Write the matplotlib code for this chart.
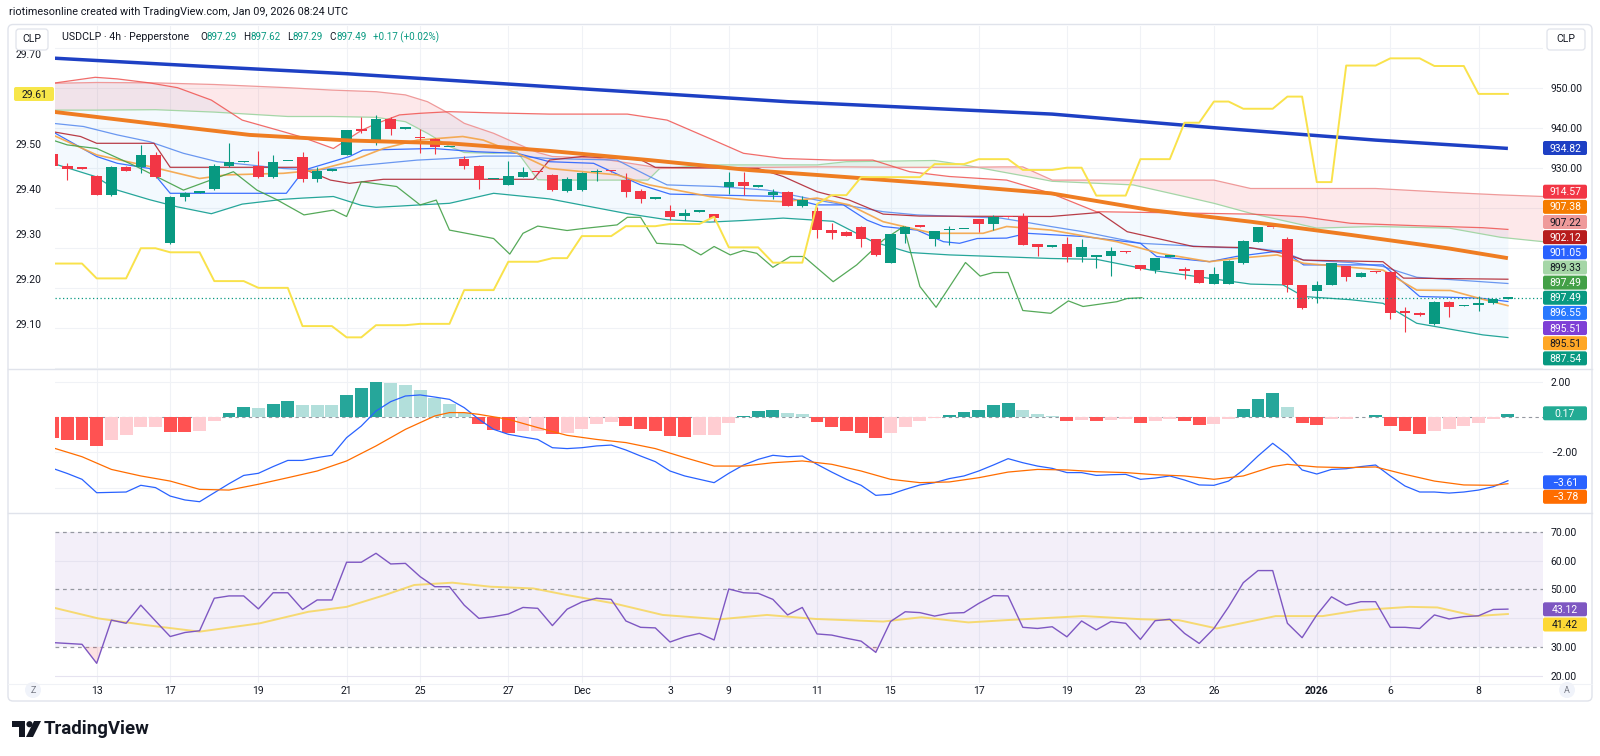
import numpy as np
import matplotlib
matplotlib.use("Agg")
import matplotlib.pyplot as plt
from matplotlib.patches import FancyBboxPatch, Polygon, Circle

plt.rcParams['font.family'] = ['Roboto', 'DejaVu Sans']

# ---------------- data ----------------
x_ticks = [3, 8, 14, 20, 25, 31, 36, 42, 46, 52, 57, 63, 69, 74, 79, 86, 91, 97]
x_ticklabels = ['13', '17', '19', '21', '25', '27', 'Dec', '3', '9', '11', '15',
                '17', '19', '23', '26', '2026', '6', '8']

opens = [933.4, 930.5, 929.9, 927.9, 923.3, 930.3, 930.3, 933.2, 911.3, 922.6,
         923.7, 924.8, 930.4, 931.4, 930.5, 927.8, 931.6, 932.8, 927.1, 929.3,
         933.3, 939.3, 936.9, 942.1, 939.7, 937.6, 937.3, 935.1, 932.3, 930.5,
         927.1, 925.7, 927.8, 929.0, 928.2, 924.2, 924.4, 928.9, 929.2, 926.9,
         924.2, 922.2, 919.3, 917.9, 919.0, 918.4, 925.3, 926.5, 925.2, 923.2,
         924.0, 920.5, 919.2, 914.4, 914.0, 915.3, 912.2, 906.3, 913.4, 915.4,
         912.3, 914.4, 914.6, 917.1, 915.9, 917.7, 918.0, 910.9, 910.2, 910.9,
         907.8, 907.7, 907.9, 909.1, 905.6, 904.4, 907.7, 904.5, 904.4, 901.0,
         901.0, 906.1, 911.5, 915.2, 912.3, 900.7, 899.3, 900.7, 905.4, 902.8,
         904.0, 904.0, 893.9, 893.8, 890.9, 896.5, 895.4, 895.8, 896.1, 897.29]
highs = [934.0, 931.1, 930.0, 928.1, 930.5, 930.4, 935.7, 933.9, 922.9, 924.0,
         924.0, 931.0, 936.1, 931.6, 934.2, 933.2, 931.8, 933.9, 930.1, 929.5,
         939.5, 942.8, 943.2, 942.6, 939.9, 939.8, 937.4, 935.3, 932.9, 930.6,
         927.3, 931.8, 930.1, 929.1, 928.5, 927.6, 929.0, 929.8, 929.3, 928.6,
         924.8, 922.4, 920.8, 919.6, 919.2, 918.5, 929.0, 928.9, 925.4, 924.6,
         924.1, 922.9, 920.3, 916.1, 914.1, 915.4, 912.3, 913.5, 915.4, 915.5,
         914.3, 915.4, 914.8, 917.2, 918.2, 917.8, 918.6, 911.0, 910.5, 912.8,
         912.1, 908.0, 910.3, 909.2, 905.7, 907.5, 907.9, 905.3, 904.5, 905.3,
         906.9, 911.9, 915.2, 915.3, 912.8, 900.8, 901.8, 906.2, 905.5, 903.9,
         904.1, 904.1, 895.3, 893.9, 896.6, 896.6, 895.6, 897.9, 897.2, 897.62]
lows = [930.0, 926.9, 929.6, 923.1, 922.9, 929.2, 928.6, 927.5, 911.0, 921.7,
        923.6, 924.5, 930.3, 931.4, 927.5, 927.5, 931.6, 926.4, 926.4, 929.3,
        933.2, 938.6, 935.7, 938.3, 939.7, 933.8, 933.4, 935.1, 929.7, 924.8,
        927.1, 925.6, 927.7, 928.8, 924.2, 924.0, 924.2, 926.8, 929.0, 922.8,
        921.3, 922.2, 916.9, 916.9, 919.0, 916.7, 923.4, 923.3, 925.2, 922.1,
        920.4, 920.3, 912.5, 912.1, 912.9, 910.3, 908.0, 906.2, 911.3, 915.2,
        910.4, 910.7, 914.6, 914.0, 914.4, 917.5, 910.7, 908.0, 910.2, 906.5,
        906.5, 904.9, 902.9, 908.8, 904.5, 903.8, 907.7, 902.1, 901.2, 900.9,
        900.9, 906.0, 911.4, 915.0, 899.0, 894.8, 896.3, 900.6, 901.8, 902.7,
        903.8, 892.1, 889.0, 893.0, 890.8, 892.8, 895.4, 894.3, 896.0, 897.29]
closes = [930.4, 929.6, 929.7, 923.3, 930.3, 929.3, 933.2, 927.8, 922.8, 923.6,
          923.9, 930.4, 931.5, 931.5, 927.8, 931.4, 931.7, 927.1, 929.3, 929.4,
          939.4, 939.2, 942.2, 939.8, 939.8, 937.4, 935.1, 935.2, 930.4, 926.9,
          927.2, 927.9, 929.0, 928.9, 924.4, 927.3, 928.8, 929.2, 929.1, 924.0,
          922.1, 922.3, 917.8, 918.8, 919.1, 917.5, 926.5, 925.4, 925.3, 924.0,
          920.5, 921.9, 914.4, 913.8, 913.0, 912.1, 908.1, 913.4, 915.3, 915.3,
          914.2, 914.6, 914.7, 915.9, 917.6, 917.6, 910.8, 910.1, 910.3, 907.8,
          910.1, 907.9, 909.3, 908.9, 904.6, 907.4, 907.8, 904.3, 901.3, 903.4,
          906.8, 911.8, 915.1, 915.1, 900.7, 894.9, 900.7, 906.1, 902.8, 903.8,
          903.9, 893.8, 893.7, 893.1, 896.5, 895.1, 895.5, 896.0, 897.1, 897.49]

# yellow series on the left scale (one value per bar)
yellow_left = ([29.235] * 3 + [29.202] * 3 + [29.269] * 2 + [29.260] * 3 + [29.196] * 3 +
               [29.181] * 3 + [29.096] * 3 + [29.071] * 2 + [29.098] * 3 + [29.101] * 3 +
               [29.176] * 3 + [29.239] * 3 + [29.247] * 2 + [29.296] * 3 + [29.318] * 3 +
               [29.323] * 3 + [29.339] * 1 + [29.271] * 3 + [29.237] * 3 + [29.367] * 1 +
               [29.387] * 2 + [29.427] * 5 + [29.456] * 3 + [29.467] * 3 + [29.443] * 3 +
               [29.448] * 2 + [29.386] * 3 + [29.467] * 3 + [29.548] * 2 + [29.595] * 2 +
               [29.579] * 3 + [29.606] * 2 + [29.416] * 2 + [29.675] * 3 + [29.691] * 3 +
               [29.674] * 3 + [29.612] * 3)

sma_long_pts = [(0, 957.4), (10, 955.4), (20, 953.5), (37, 949.5), (50, 946.5), (68, 943.4),
                (79, 940.0), (90, 936.9), (99, 934.82)]
ema_mid_pts = [(0, 944.0), (6.6, 941.1), (13.4, 938.2), (20.2, 936.8), (27, 936.1), (33.8, 934.2),
               (40.6, 931.9), (47.4, 929.4), (54.2, 927.6), (61, 925.7), (67.9, 923.6), (74.7, 919.4),
               (81.5, 916.5), (88.3, 913.2), (95, 909.8), (99, 907.38)]

cloud_x = [0, 3, 7, 11, 16, 19, 22, 24, 25.5, 27, 28, 30, 31.6, 33, 34, 37, 40.5, 41.3, 45, 49,
           52, 54, 58, 60, 62, 64.5, 66, 68, 73.5, 77, 79, 81.5, 86, 90, 95, 98.5, 101.4]
lead_a = [944.4, 944.4, 944.5, 943.9, 942.8, 942.8, 942.6, 941.5, 938.6, 935.3, 933.8, 933.6,
          934.0, 927.0, 926.9, 926.9, 926.9, 929.8, 930.7, 930.7, 930.7, 931.5, 931.7, 931.8,
          930.7, 929.0, 928.0, 926.6, 925.7, 922.8, 921.1, 918.6, 914.9, 915.3, 914.9, 912.6, 911.5]
lead_b = [951.1, 951.3, 951.2, 950.8, 950.0, 949.4, 949.0, 948.2, 946.5, 943.5, 941.1, 938.6,
          936.0, 933.8, 932.8, 932.4, 930.4, 929.8, 930.0, 930.1, 930.2, 930.2, 930.1, 930.1,
          930.1, 930.2, 930.2, 926.9, 926.9, 926.9, 926.9, 924.8, 924.8, 924.8, 923.8, 923.2, 922.8]

band_x = [0, 2.9, 4.4, 6.6, 8.5, 10.8, 12.9, 15.7, 17, 19.1, 21, 22, 23.6, 25, 27, 30, 33.8,
          39.1, 41.8, 44.7, 47, 49.7, 53.1, 55.8, 58.3, 61, 64.9, 67.9, 71, 74.7, 81.5, 83.7,
          85.1, 88.3, 90.5, 92.8, 97.3, 99]
band_upper = [951.1, 952.6, 952.2, 951.2, 950.0, 946.9, 941.9, 939.0, 937.6, 934.8, 939.3,
              941.0, 943.2, 943.6, 944.0, 943.7, 943.4, 943.4, 941.9, 937.3, 933.6, 932.3,
              931.9, 931.9, 929.0, 927.8, 926.9, 923.6, 919.0, 918.8, 918.4, 918.0, 917.7,
              916.1, 915.8, 915.5, 915.0, 914.57]
band_lower = [931.1, 927.8, 924.4, 922.0, 920.2, 918.5, 920.9, 922.1, 922.4, 922.8, 920.6,
              920.1, 920.4, 920.7, 921.1, 923.6, 922.2, 918.5, 917.0, 916.4, 916.8, 917.4,
              916.6, 911.5, 908.8, 908.2, 907.7, 907.3, 907.1, 904.4, 900.9, 900.7, 897.8,
              897.0, 896.1, 891.1, 888.2, 887.54]

blue_a_pts = [(0, 941.1), (2.1, 940.3), (4.4, 938.2), (6.6, 936.5), (8.9, 933.6), (11.2, 931.5),
              (13.4, 930.7), (15.7, 929.8), (18, 929.4), (20.2, 930.3), (22.5, 931.1), (24.8, 931.9),
              (27, 932.3), (29.3, 932.9), (31.6, 932.9), (33.8, 932.3), (38.4, 931.9), (40.6, 927.8),
              (41.8, 925.7), (45.2, 925.3), (48.6, 924.4), (52, 921.9), (56.5, 919.0), (58.8, 918.2),
              (61, 917.9), (64.5, 917.4), (66, 916.5), (67.9, 915.3), (70.1, 914.0), (74, 911.1),
              (79.2, 910.1), (81.9, 909.8), (83.7, 909.0), (85.1, 906.9), (88.3, 906.3),
              (90.5, 905.3), (92.8, 902.6), (99, 901.05)]
blue_step_pts = [(0, 939.0), (3, 932.8), (4.4, 931.1), (6.6, 929.8), (8, 923.6), (15.9, 923.6),
                 (17.1, 929.4), (20.2, 932.8), (21.1, 934.4), (25.9, 934.8), (28.8, 934.0),
                 (31.6, 933.6), (33.8, 931.5), (36.8, 931.1), (40, 925.7), (42, 923.4), (49.7, 922.8),
                 (52, 920.7), (53.8, 920.7), (55.4, 916.9), (56.5, 915.3), (58.8, 914.4), (60.6, 911.5),
                 (61.7, 911.1), (62.9, 912.3), (64.9, 912.4), (66.3, 913.6), (70.1, 912.8), (74, 911.1),
                 (75.1, 907.8), (78.7, 906.5), (80.5, 907.8), (83.7, 909.3), (85.1, 905.7),
                 (90.5, 905.7), (93, 897.8), (97.1, 897.4), (99, 896.55)]
base_pts = [(0, 939.0), (1.9, 937.8), (3, 936.1), (6.9, 936.1), (8, 930.1), (16.8, 930.1),
            (18.9, 926.9), (20.2, 926.1), (22.5, 927.1), (32.7, 927.1), (33.8, 931.9), (36, 932.8),
            (40, 932.0), (41, 930.1), (48, 929.8), (49.7, 927.8), (52, 924.0), (54.2, 921.9),
            (56.5, 918.4), (59, 917.9), (67.9, 917.8), (71.2, 918.8), (73.1, 914.0), (77.6, 910.3),
            (81.5, 910.0), (83.7, 908.6), (85.1, 906.9), (90.5, 906.5), (91.9, 902.4), (99, 902.12)]
orange_thin_pts = [(0, 938.2), (3, 933.2), (6.6, 930.3), (10, 927.3), (11.8, 928.2), (15.7, 928.6),
                   (18, 929.4), (20.2, 931.5), (22.5, 934.8), (24.8, 936.9), (27.9, 937.8),
                   (29.3, 936.9), (31.6, 933.6), (33.8, 929.8), (38.4, 928.2), (40.6, 925.7),
                   (44.7, 922.8), (47.4, 921.9), (49.7, 921.5), (52, 922.4), (54.2, 920.7),
                   (56.5, 916.5), (57.9, 915.3), (59.9, 913.6), (63.3, 913.6), (64.9, 915.3),
                   (67.9, 914.4), (72.4, 911.5), (75.3, 908.6), (78.7, 906.5), (80.5, 907.3),
                   (83.3, 908.2), (85.1, 906.1), (90.5, 904.4), (92.8, 899.4), (95.1, 899.3),
                   (97.3, 897.1), (99, 895.51)]
lagging_pts = [(0, 936.9), (1, 935.7), (3, 934.8), (5.7, 930.3), (8.9, 924.4), (12.3, 929.0),
               (13.9, 924.4), (15.2, 922.1), (17.1, 918.2), (19.1, 919.4), (20, 917.8), (21, 926.5),
               (23.4, 925.3), (25, 920.7), (26.1, 921.9), (27, 914.4), (30, 912.3), (31.1, 908.4),
               (32, 913.6), (33, 915.4), (35, 914.3), (36.1, 914.8), (38.4, 915.7), (39.1, 917.6),
               (40, 917.6), (41.1, 911.1), (42.9, 910.7), (44.1, 908.2), (45, 910.3), (46.1, 908.2),
               (47, 909.3), (47.9, 908.6), (49, 905.1), (50.2, 907.8), (51.1, 907.8), (53.1, 901.5),
               (54.7, 905.7), (56.5, 911.9), (57.9, 915.3), (59, 900.3), (60.1, 895.1), (62.1, 906.3),
               (63.1, 902.9), (64, 903.8), (65, 903.8), (66, 894.3), (67.9, 893.6), (69.1, 896.7),
               (70.1, 895.3), (72.4, 896.5), (73.1, 897.3), (74.1, 897.49)]

macd_line = [-2.91, -3.20, -3.53, -4.29, -4.27, -4.25, -3.87, -4.00, -4.48, -4.70,
             -4.80, -4.29, -3.78, -3.31, -3.19, -2.81, -2.46, -2.46, -2.30, -2.17,
             -1.17, -0.51, 0.34, 0.87, 1.19, 1.25, 1.13, 1.00, 0.53, -0.13,
             -0.70, -0.98, -1.13, -1.27, -1.74, -1.79, -1.74, -1.64, -1.59, -1.87,
             -2.21, -2.53, -3.06, -3.34, -3.53, -3.72, -3.19, -2.72, -2.40, -2.17,
             -2.25, -2.21, -2.68, -3.12, -3.53, -3.87, -4.44, -4.38, -4.10, -3.85,
             -3.72, -3.49, -3.34, -3.06, -2.72, -2.36, -2.59, -2.78, -2.91, -3.15,
             -3.15, -3.31, -3.27, -3.25, -3.53, -3.46, -3.34, -3.57, -3.85, -3.87,
             -3.63, -3.00, -2.21, -1.49, -2.12, -3.00, -3.23, -2.97, -2.93, -2.81,
             -2.72, -3.34, -3.91, -4.25, -4.25, -4.31, -4.25, -4.14, -3.95, -3.61]
signal_pts = [(0, -1.74), (2, -2.25), (4, -2.97), (6, -3.34), (8, -3.63), (10, -4.10), (12, -4.14),
              (14, -3.81), (16, -3.44), (18, -3.06), (20, -2.49), (22, -1.64), (24, -0.70), (26, 0.06),
              (27, 0.25), (28, 0.25), (29, 0.15), (31, -0.13), (33, -0.60), (35, -1.04), (37, -1.27),
              (39, -1.45), (41, -1.79), (43, -2.30), (45, -2.78), (47, -2.78), (49, -2.59), (51, -2.49),
              (53, -2.68), (55, -3.06), (57, -3.53), (59, -3.72), (61, -3.68), (63, -3.44), (65, -3.12),
              (67, -2.97), (69, -3.00), (71, -3.10), (73, -3.15), (75, -3.27), (77, -3.34), (79, -3.53),
              (81, -3.34), (83, -2.81), (84, -2.68), (86, -2.83), (88, -2.87), (90, -2.83), (92, -3.25),
              (94, -3.63), (96, -3.85), (98, -3.87), (99, -3.78)]
macd_hist = [-1.17, -1.30, -1.32, -1.66, -1.30, -1.04, -0.59, -0.58, -0.85, -0.86,
             -0.79, -0.23, 0.25, 0.57, 0.51, 0.76, 0.93, 0.66, 0.66, 0.66,
             1.27, 1.62, 1.98, 1.95, 1.81, 1.53, 1.10, 0.76, 0.25, -0.42,
             -0.74, -0.89, -0.81, -0.77, -0.98, -0.89, -0.70, -0.42, -0.26, -0.51,
             -0.70, -0.79, -1.08, -1.11, -1.04, -1.02, -0.32, 0.06, 0.34, 0.40,
             0.25, 0.19, -0.28, -0.59, -0.79, -0.89, -1.17, -0.89, -0.57, -0.23,
             -0.08, 0.11, 0.26, 0.42, 0.66, 0.77, 0.42, 0.15, 0.06, -0.25,
             -0.17, -0.25, -0.17, -0.13, -0.36, -0.23, -0.13, -0.25, -0.43, -0.42,
             -0.13, 0.47, 1.04, 1.34, 0.59, -0.34, -0.43, -0.13, -0.13, 0.02,
             0.11, -0.49, -0.79, -0.94, -0.79, -0.70, -0.51, -0.32, -0.09, 0.17]

rsi_vals = [31.5, 31.2, 30.9, 24.3, 39.3, 38.2, 44.5, 39.0, 33.6, 35.0,
            35.6, 46.9, 47.7, 47.7, 43.2, 48.8, 48.8, 43.0, 46.3, 46.3,
            59.4, 59.4, 62.5, 58.8, 59.0, 54.4, 50.9, 50.9, 44.5, 39.9,
            40.5, 41.4, 43.7, 43.4, 37.4, 43.1, 45.6, 46.9, 46.5, 39.0,
            36.8, 36.6, 31.7, 33.5, 34.7, 32.4, 50.1, 48.8, 48.6, 46.5,
            41.1, 43.7, 34.5, 34.1, 33.0, 32.0, 28.1, 38.8, 42.2, 41.9,
            40.7, 41.7, 41.9, 45.1, 47.8, 47.7, 36.8, 36.4, 37.0, 33.5,
            39.0, 35.9, 38.8, 38.2, 32.6, 39.1, 39.6, 34.7, 31.2, 36.4,
            43.9, 52.3, 56.5, 56.5, 38.2, 33.2, 41.1, 47.4, 44.5, 45.7,
            45.7, 36.8, 36.8, 36.4, 41.1, 39.7, 40.5, 40.8, 43.0, 43.12]
rsi_ma_pts = [(0, 43.7), (3.1, 39.9), (6.3, 37.6), (10, 35.3), (14.1, 38.2), (17.4, 42.2), (20, 43.9),
              (22.6, 48.0), (24.6, 51.5), (27.2, 52.3), (29.8, 50.9), (32.7, 50.3), (35, 48.0),
              (38.2, 45.1), (41.5, 41.1), (45.4, 39.6), (48.6, 41.1), (51.9, 39.7), (56.5, 38.8),
              (59.1, 40.3), (62.3, 38.5), (64.9, 39.3), (70.1, 40.7), (74.1, 39.6), (76.6, 39.3),
              (79.2, 36.4), (83.2, 40.7), (86.4, 40.7), (89, 42.8), (92.3, 43.9), (94.2, 43.7),
              (96.8, 40.7), (99, 41.42)]

main_tag_values = ['934.82', '914.57', '907.38', '907.22', '902.12', '901.05', '899.33',
                   '897.49', '897.49', '896.55', '895.51', '895.51', '887.54']
main_tag_colors = ['#1E40C4', '#F23645', '#F57C00', '#EF9A9A', '#B71C1C', '#2962FF', '#A5D6A7',
                   '#43A047', '#089981', '#2979FF', '#7E3FD6', '#FFA726', '#089981']
main_tag_dark = [False, False, False, True, False, False, True, False, False, False, False, True, False]
last_price = 897.49

# ---------------- layout (pixels) ----------------
W, H = 1600, 756
PX_L, PX_R = 55, 1543
MAIN_T, MAIN_B = 26, 369
MACD_T, MACD_B = 369, 513
RSI_T, RSI_B = 513, 683
X0, DX = 52.6, 14.7          # bar 0 centre and bar spacing in px

UP, DN = '#089981', '#F23645'
GRID = '#F0F2F6'
TXT = '#131722'


def rect(top, bottom):
    return [PX_L / W, 1 - bottom / H, (PX_R - PX_L) / W, (bottom - top) / H]


def unzip(pts):
    return [p[0] for p in pts], [p[1] for p in pts]


fig = plt.figure(figsize=(16, 7.56), dpi=100)
fig.patch.set_facecolor('white')

ax = fig.add_axes(rect(MAIN_T, MAIN_B))
axl = ax.twinx()
axm = fig.add_axes(rect(MACD_T, MACD_B), sharex=ax)
axr = fig.add_axes(rect(RSI_T, RSI_B), sharex=ax)

xlim = ((PX_L - X0) / DX, (PX_R - X0) / DX)
ax.set_xlim(*xlim)
# price scale: 950 at y=87.7 px, 4 px per unit
ax.set_ylim(950 - (MAIN_B - 87.7) / 4, 950 + (87.7 - MAIN_T) / 4)
axl.set_ylim(29.50 - (MAIN_B - 144.3) / 450, 29.50 + (144.3 - MAIN_T) / 450)
axm.set_ylim(-(MACD_B - 417.0) / 17.65, (417.0 - MACD_T) / 17.65)
axr.set_ylim(20 - (RSI_B - 675.7) / 2.88, 70 + (531.7 - RSI_T) / 2.88)

for a in (ax, axl, axm, axr):
    for s in a.spines.values():
        s.set_visible(False)
    a.set_facecolor('none')
for a in (ax, axm, axr):
    for t in x_ticks:
        a.axvline(t, color=GRID, lw=0.8, zorder=0)

# ---- main panel ----
for v in range(880, 970, 10):
    ax.axhline(v, color=GRID, lw=0.8, zorder=0)

ax.fill_between(cloud_x, lead_a, lead_b, where=np.array(lead_b) >= np.array(lead_a),
                interpolate=True, color='#F23645', alpha=0.11, lw=0, zorder=1)
ax.fill_between(cloud_x, lead_a, lead_b, where=np.array(lead_a) > np.array(lead_b),
                interpolate=True, color='#4CAF50', alpha=0.11, lw=0, zorder=1)
ax.plot(cloud_x, lead_a, color='#A5D6A7', lw=0.9, zorder=2)
ax.plot(cloud_x, lead_b, color='#EF9A9A', lw=0.9, zorder=2)

ax.fill_between(band_x, band_lower, band_upper, color='#2196F3', alpha=0.05, lw=0, zorder=1)
ax.plot(band_x, band_upper, color='#EF5350', lw=0.9, alpha=0.85, zorder=3)
ax.plot(band_x, band_lower, color='#26A69A', lw=0.9, zorder=3)

for pts, col, lw in [(blue_a_pts, '#5B8DEF', 0.9), (blue_step_pts, '#2962FF', 0.9),
                     (base_pts, '#B22833', 0.9), (orange_thin_pts, '#F5A445', 1.2),
                     (lagging_pts, '#43A047', 0.9)]:
    xs, ys = unzip(pts)
    ax.plot(xs, ys, color=col, lw=lw, alpha=0.9, zorder=3)

bars = np.arange(len(closes))
o = np.array(opens); c = np.array(closes); hi = np.array(highs); lo = np.array(lows)
col = np.where(c >= o, UP, DN)
ax.vlines(bars, lo, hi, colors=col, lw=0.8, zorder=4)
ax.bar(bars, np.maximum(np.abs(c - o), 0.35), bottom=np.minimum(o, c), width=0.72,
       color=col, lw=0, zorder=5)

xs, ys = unzip(ema_mid_pts)
ax.plot(xs, ys, color='#EF7D22', lw=2.8, zorder=6, solid_capstyle='butt')
xs, ys = unzip(sma_long_pts)
ax.plot(xs, ys, color='#1E40C4', lw=2.5, zorder=6, solid_capstyle='butt')
ax.axhline(last_price, color=UP, lw=0.9, ls=(0, (1, 2)), zorder=6)

axl.plot(bars, yellow_left, color='#F9E24B', lw=1.4, zorder=7)

# tick placement (after twinx so sides are final)
ax.yaxis.set_ticks_position('right')
ax.set_yticks([930, 940, 950])
ax.set_yticklabels(['930.00', '940.00', '950.00'])
ax.tick_params(axis='y', which='both', left=False, labelleft=False, right=False,
               labelright=True, length=0, pad=5.5, labelsize=7.5, labelcolor=TXT)
ax.tick_params(axis='x', length=0, labelbottom=False)
for lab in ax.get_yticklabels():
    lab.set_horizontalalignment('left')

axl.yaxis.set_ticks_position('left')
axl.set_yticks([29.1, 29.2, 29.3, 29.4, 29.5, 29.7])
axl.set_yticklabels(['29.10', '29.20', '29.30', '29.40', '29.50', '29.70'])
axl.tick_params(axis='y', which='both', right=False, labelright=False, left=False,
                labelleft=True, length=0, pad=9.5, labelsize=7.5, labelcolor=TXT)
axl.tick_params(axis='x', length=0, labelbottom=False)

# ---- MACD panel ----
for v in (2, -2, -4):
    axm.axhline(v, color=GRID, lw=0.8, zorder=0)
axm.axhline(0, color='#9598A1', lw=0.8, ls=(0, (3, 3)), zorder=1)
hcols = []
for i, h in enumerate(macd_hist):
    p = macd_hist[i - 1] if i > 0 else 0.0
    if h >= 0:
        hcols.append('#26A69A' if h > p else '#B2DFDB')
    else:
        hcols.append('#FF5252' if h < p else '#FFCDD2')
axm.bar(bars, macd_hist, width=0.88, color=hcols, lw=0, zorder=2)
axm.plot(bars, macd_line, color='#2962FF', lw=0.9, zorder=3)
xs, ys = unzip(signal_pts)
axm.plot(xs, ys, color='#FF6D00', lw=0.9, zorder=3)
axm.yaxis.set_ticks_position('right')
axm.set_yticks([2, -2])
axm.set_yticklabels(['2.00', '\u22122.00'])
axm.tick_params(axis='y', left=False, labelleft=False, right=False, labelright=True,
                length=0, pad=5.5, labelsize=7.5, labelcolor=TXT)
axm.tick_params(axis='x', length=0, labelbottom=False)
for lab in axm.get_yticklabels():
    lab.set_horizontalalignment('left')

# ---- RSI panel ----
axr.axhspan(30, 70, color='#7E57C2', alpha=0.09, lw=0, zorder=0)
for v in (60, 40, 20):
    axr.axhline(v, color='#E6E3F0', lw=0.8, zorder=1)
for v in (70, 50, 30):
    axr.axhline(v, color='#9598A1', lw=0.9, ls=(0, (3, 3)), zorder=1)
rsi = np.array(rsi_vals)
axr.fill_between(bars, rsi, 30, where=rsi < 30, interpolate=True, color='#F23645', alpha=0.15, lw=0)
xs, ys = unzip(rsi_ma_pts)
axr.plot(xs, ys, color='#F7D65A', lw=1.4, alpha=0.85, zorder=2)
axr.plot(bars, rsi_vals, color='#7E57C2', lw=1.0, zorder=3)
axr.yaxis.set_ticks_position('right')
axr.set_yticks([70, 60, 50, 30, 20])
axr.set_yticklabels(['70.00', '60.00', '50.00', '30.00', '20.00'])
axr.tick_params(axis='y', left=False, labelleft=False, right=False, labelright=True,
                length=0, pad=5.5, labelsize=7.5, labelcolor=TXT)
for lab in axr.get_yticklabels():
    lab.set_horizontalalignment('left')
axr.set_xticks(x_ticks)
axr.set_xticklabels(x_ticklabels)
axr.tick_params(axis='x', length=0, pad=2.5, labelsize=7.5, labelcolor=TXT)
for lab in axr.get_xticklabels():
    if lab.get_text() == '2026':
        lab.set_fontweight('bold')

# ---------------- overlay: frame, legend, tags ----------------
ov = fig.add_axes([0, 0, 1, 1], zorder=20)
ov.set_xlim(0, W)
ov.set_ylim(H, 0)
ov.axis('off')
r = fig.canvas.get_renderer()

ov.add_patch(FancyBboxPatch((8, 24.5), 1584, 676.5, boxstyle='round,pad=0,rounding_size=5',
                            fc='none', ec='#E0E3EB', lw=1.0))
for yy in (MAIN_B, MACD_B):
    ov.plot([8, 1592], [yy, yy], color='#E0E3EB', lw=1.0)
ov.plot([8, 1592], [RSI_B + 1, RSI_B + 1], color='#F0F2F6', lw=0.8)


def fit_size(s, target_w, **kw):
    t = ov.text(100, 100, s, fontsize=10, **kw)
    w = t.get_window_extent(r).width
    t.remove()
    return 10 * target_w / w


def fit_text(x, y, s, target_w, **kw):
    fs_ = fit_size(s, target_w, **{k: v for k, v in kw.items() if k == 'fontweight'})
    return ov.text(x, y, s, fontsize=fs_, **kw)


fit_text(9, 12, 'riotimesonline created with TradingView.com, Jan 09, 2026 08:24 UTC', 338,
         color=TXT, va='center', ha='left')

for bx, bw in ((16, 32), (1547, 38)):
    ov.add_patch(FancyBboxPatch((bx, 29), bw, 21, boxstyle='round,pad=0,rounding_size=3',
                                fc='white', ec='#E0E3EB', lw=0.9))
    ov.text(bx + bw / 2, 39.5, 'CLP', ha='center', va='center', fontsize=7.5, color=TXT)

fit_text(62, 37, 'USDCLP \u00b7 4h \u00b7 Pepperstone', 128, color=TXT, va='center', ha='left')
fs = fit_size('O897.29', 37)
xpos = 200
for letter, val in (('O', '897.29'), ('H', '897.62'), ('L', '897.29'), ('C', '897.49')):
    t = ov.text(xpos, 37, letter, fontsize=fs, color=TXT, va='center', ha='left')
    xpos += t.get_window_extent(r).width
    t2 = ov.text(xpos, 37, val, fontsize=fs, color=UP, va='center', ha='left')
    xpos += t2.get_window_extent(r).width + 6.5
ov.text(xpos, 37, '+0.17 (+0.02%)', fontsize=fs, color=UP, va='center', ha='left')


def tag(x0, yc, w, text, bg, dark=False, h=14):
    ov.add_patch(FancyBboxPatch((x0, yc - h / 2), w, h, boxstyle='round,pad=0,rounding_size=2',
                                fc=bg, ec='none'))
    ov.text(x0 + w / 2, yc + 0.5, text, ha='center', va='center', fontsize=7.5,
            color=TXT if dark else 'white')


for k, (val, bg, dk) in enumerate(zip(main_tag_values, main_tag_colors, main_tag_dark)):
    yc = 148.0 if k == 0 else 191.7 + (k - 1) * 15.15
    tag(1543, yc, 44, val, bg, dk)

tag(1543, 413.3, 44, '0.17', '#22AB94')
tag(1543, 482.3, 44, '\u22123.61', '#2962FF')
tag(1543, 496.8, 44, '\u22123.78', '#FF6D00')
tag(1543, 609.3, 44, '43.12', '#7E57C2')
tag(1543, 624.5, 44, '41.42', '#FDD835', True)
tag(14, 94, 40, '29.61', '#F7E64A', True)

for cx, letter in ((33, 'Z'), (1567, 'A')):
    ov.add_patch(Circle((cx, 690), 8, fc='#F0F3FA', ec='none'))
    ov.text(cx, 690.5, letter, ha='center', va='center', fontsize=6.5, color='#787B86')

# TradingView logo
ov.add_patch(Polygon([(12, 721), (25, 721), (25, 737), (19, 737), (19, 727), (12, 727)],
                     closed=True, fc=TXT, ec='none'))
ov.add_patch(Circle((29.5, 724.2), 3.1, fc=TXT, ec='none'))
ov.add_patch(Polygon([(34, 721), (41, 721), (33, 737), (26, 737)], closed=True, fc=TXT, ec='none'))
fit_text(44, 729.5, 'TradingView', 106, color=TXT, va='center', ha='left', fontweight='bold')

fig.savefig('out.png', dpi=100, facecolor='white')
